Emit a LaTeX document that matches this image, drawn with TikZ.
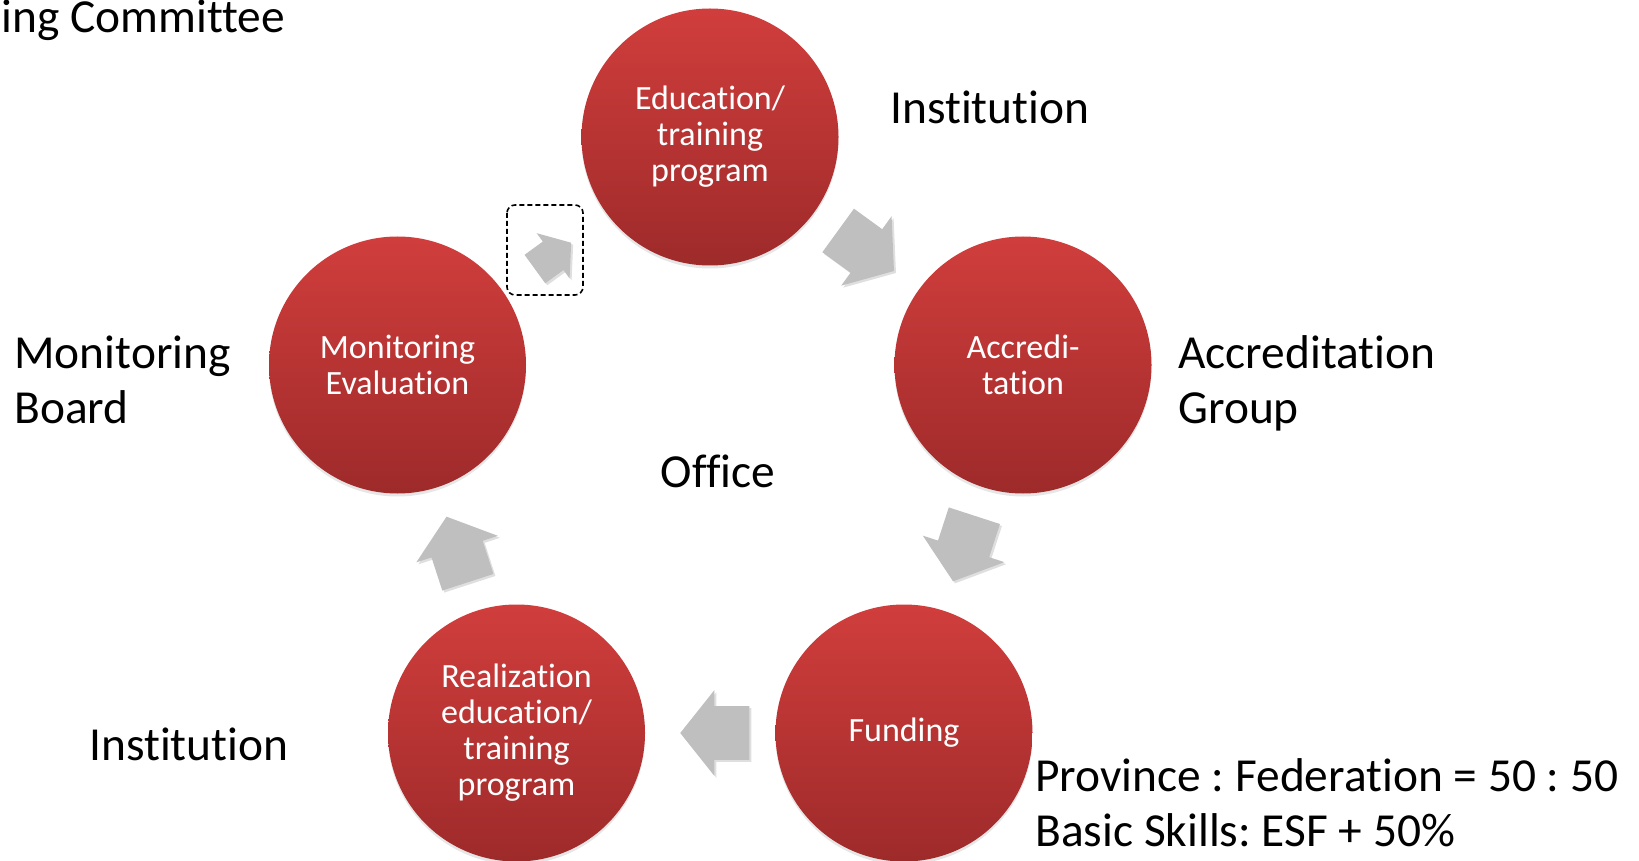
\documentclass[tikz,border=0pt]{standalone}
\usepackage{fontspec}
\setmainfont{Carlito}[Ligatures=NoCommon]
\frenchspacing
\usetikzlibrary{calc,shadows,shapes.arrows}
\definecolor{stagetop}{RGB}{208,62,60}
\definecolor{stagebottom}{RGB}{158,42,42}
\definecolor{flowgray}{RGB}{191,191,191}
\tikzset{
	stage/.style={circle, minimum size=128.5pt, inner sep=0pt, top color=stagetop, bottom color=stagebottom, text=white, align=center, font=\fontsize{17}{18}\selectfont, drop shadow={shadow xshift=0pt, shadow yshift=-1.5pt, opacity=0.2}},
	flow/.style={single arrow, fill=flowgray, draw=none, minimum height=34.5pt, inner xsep=0pt, inner ysep=13.25pt, single arrow head extend=8pt, single arrow tip angle=103, anchor=tip, drop shadow={shadow xshift=1pt, shadow yshift=-1pt, opacity=0.25}},
	smallflow/.style={flow, minimum height=22.4pt, inner ysep=8.6pt, single arrow head extend=5.2pt},
	role/.style={anchor=base west, inner sep=0pt, align=left, font=\fontsize{23.7}{27.5}\selectfont},
	selbox/.style={draw=black, dash pattern=on 2.5pt off 1.5pt, line width=0.8pt, rounded corners=4pt}
}
\begin{document}
\begin{tikzpicture}[x=0.5pt, y=-0.5pt]
	\useasboundingbox (0,0) rectangle (1639,861);
	\node (edu) at (710,137) [stage] {Education/\\training\\program};
		\node (acc) at (1023,365) [stage] {Accredi-\\tation};
			\node (fund) at (904,733) [stage] {Funding};
			\node (real) at (516.5,733) [stage] {Realization\\education/\\training\\program};
		\node (mon) at (397.5,365) [stage] {Monitoring\\Evaluation};
	\coordinate (m1) at ($(edu)!0.5!(acc)$);
	\coordinate (m2) at ($(acc)!0.5!(fund)$);
	\coordinate (m3) at ($(fund)!0.5!(real)+(4,0)$);
	\coordinate (m4) at ($(real)!0.5!(mon)$);
	\coordinate (m5) at ($(mon)!0.5!(edu)+(0,5)$);
	\node (f1) at ($(m1)!17.25pt!(acc)$) [flow, rotate=-36] {};
	\node (f2) at ($(m2)!17.25pt!(fund)$) [flow, rotate=-108] {};
	\node (f3) at ($(m3)!17.25pt!(real)$) [flow, rotate=180] {};
	\node (f4) at ($(m4)!17.25pt!(mon)$) [flow, rotate=108] {};
	\node (f5) at ($(m5)!11.2pt!(edu)$) [smallflow, rotate=36] {};
	\draw[selbox] (507,205) rectangle (583,295);
	\node (committee) at (1,33) [role] {ing Committee};
	\node (inst1) at (890,124) [role] {Institution};
	\node (group) at (1178,423) [role] {Accreditation\\Group};
	\node (board) at (14,423) [role] {Monitoring\\Board};
	\node (office) at (718,487) [role, anchor=base] {Office};
	\node (inst2) at (89,760) [role] {Institution};
	\fill[white] (1032,733) rectangle (1639,861);
	\node (share) at (1035,846) [role] {Province : Federation = 50 : 50\\Basic Skills: ESF + 50\%};
\end{tikzpicture}
\end{document}
